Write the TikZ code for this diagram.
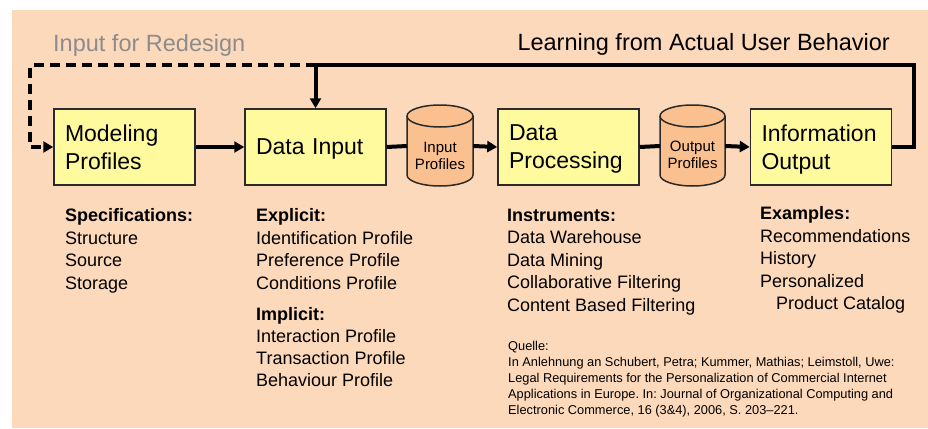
\documentclass[tikz,border=0pt]{standalone}
\usepackage{fontspec}
\setmainfont{Liberation Sans}
\usetikzlibrary{arrows.meta}
\frenchspacing
\definecolor{bgpeach}{HTML}{FDD9BC}
\definecolor{boxyellow}{HTML}{FFFA9E}
\definecolor{cylorange}{HTML}{FAC08F}
\definecolor{titlegray}{HTML}{8C8C8C}
\definecolor{boxline}{HTML}{2A2A2A}
\newcommand{\nodepth}[1]{\raisebox{0pt}[\height][0pt]{#1}}
\begin{document}
\begin{tikzpicture}[x=1pt,y=-1pt,
  procbox/.style={draw=boxline, line width=1.5pt, fill=boxyellow,
    minimum width=141pt, minimum height=76pt, text width=119pt,
    inner xsep=11pt, inner ysep=0pt, align=left,
    font=\fontsize{23}{28}\selectfont},
  cylhold/.style={minimum width=66pt, minimum height=82pt, inner sep=0pt},
  cylfill/.style={fill=cylorange, draw=boxline, line width=1.5pt},
  cyltext/.style={align=center, inner sep=0pt, font=\fontsize{15}{17}\selectfont},
  conn/.style={line width=4pt, draw=black, -{Triangle[length=10pt,width=11pt]}},
  plainconn/.style={line width=4pt, draw=black},
  loopline/.style={line width=4pt, draw=black, line join=miter},
  dashloop/.style={line width=4pt, draw=black, dash pattern=on 10pt off 6pt,
    -{Triangle[length=10pt,width=11pt]}},
  title/.style={anchor=base west, inner sep=0pt, font=\fontsize{23.5}{28}\selectfont},
  listtext/.style={anchor=base west, inner sep=0pt, align=left,
    font=\fontsize{18}{22.5}\selectfont},
  srctext/.style={anchor=base west, inner sep=0pt, align=left,
    font=\fontsize{12.8}{16}\selectfont\frenchspacing}
]
\useasboundingbox (0,0) rectangle (928,428);
\fill[bgpeach] (12,10) rectangle (928,428);

% titles
\node[title, text=titlegray] (redesign) at (53,51.5) {Input for Redesign};
\node[title, anchor=base east] (learning) at (890,51) {Learning from Actual User Behavior};

% process boxes
\node[procbox] (mp) at (124.5,147) {Modeling\\Profiles};
\node[procbox] (di) at (315.5,147) {\nodepth{Data Input}};
\node[procbox] (dp) at (568.5,147) {Data\\\nodepth{Processing}};
\node[procbox] (io) at (821,147) {Information\\\nodepth{Output}};

% cylinders
\node[cylhold] (ipc) at (440,146) {};
\path[cylfill] (407,116) -- (407,175) arc[start angle=180,end angle=0,x radius=33,y radius=11]
  -- (473,116) arc[start angle=0,end angle=-180,x radius=33,y radius=11] -- cycle;
\draw[boxline, line width=1.5pt] (407,116) arc[start angle=180,end angle=0,x radius=33,y radius=11];
\node[cyltext] (iptxt) at (440,156) {Input\\Profiles};

\node[cylhold, minimum width=65pt] (opc) at (692.5,146) {};
\path[cylfill] (660,116) -- (660,175) arc[start angle=180,end angle=0,x radius=32.5,y radius=11]
  -- (725,116) arc[start angle=0,end angle=-180,x radius=32.5,y radius=11] -- cycle;
\draw[boxline, line width=1.5pt] (660,116) arc[start angle=180,end angle=0,x radius=32.5,y radius=11];
\node[cyltext] (optxt) at (692.5,155) {Output\\Profiles};

% connectors
\draw[conn] (mp.east) -- (di.west);
\draw[plainconn] (di.east) -- (ipc.west);
\draw[conn] (ipc.east) -- (dp.west);
\draw[plainconn] (dp.east) -- (opc.west);
\draw[conn] (opc.east) -- (io.west);

% feedback loops
\coordinate (fbR) at (914,65);
\coordinate (fbM) at (315.5,65);
\coordinate (fbL) at (30,65);
\draw[loopline] (io.east) -| (fbR) -- (fbM);
\draw[conn] (fbM) -- (di.north);
\draw[dashloop] (fbM) -- (fbL) |- (mp.west);

% lists
\node[listtext] (spec) at (65,289) {\textbf{Specifications:}\\Structure\\Source\\Storage};
\node[listtext] (expl) at (256,289) {\textbf{Explicit:}\\Identification Profile\\Preference Profile\\Conditions Profile};
\node[listtext, font=\fontsize{18}{22}\selectfont] (impl) at (256,386) {\textbf{Implicit:}\\Interaction Profile\\Transaction Profile\\Behaviour Profile};
\node[listtext] (instr) at (507,311) {\textbf{Instruments:}\\Data Warehouse\\Data Mining\\Collaborative Filtering\\Content Based Filtering};
\node[listtext] (expl2) at (760,309.5) {\textbf{Examples:}\\Recommendations\\History\\Personalized\\\hspace*{16pt}Product Catalog};

\node[srctext] (src) at (508,414) {Quelle:\\In Anlehnung an Schubert, Petra; Kummer, Mathias; Leimstoll, Uwe:\\Legal Requirements for the Personalization of Commercial Internet\\Applications in Europe. In: Journal of Organizational Computing and\\Electronic Commerce, 16 (3\&4), 2006, S. 203--221.};
\end{tikzpicture}
\end{document}
